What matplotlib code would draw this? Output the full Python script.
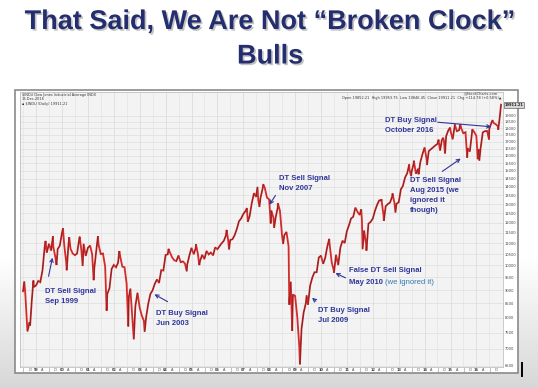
import numpy as np
import pandas as pd
import matplotlib
matplotlib.use('Agg')
import matplotlib.pyplot as plt
import matplotlib.dates as mdates
import matplotlib.patheffects as pe
from matplotlib.collections import LineCollection
from matplotlib.patches import Rectangle
from matplotlib.lines import Line2D

# Dow Jones Industrial Average, monthly closes (Jul 1998 - Nov 2016)
dow_1998 = [8883, 7539, 7843, 8592, 9117, 9181]
dow_1999 = [9359, 9307, 9786, 10789, 10560, 10971, 10655, 10829, 10337, 10729, 10878, 11497]
dow_2000 = [10941, 10128, 10922, 10734, 10522, 10448, 10522, 11215, 10651, 10971, 10415, 10787]
dow_2001 = [10887, 10495, 9879, 10735, 10912, 10502, 10523, 9950, 8848, 9075, 9852, 10021]
dow_2002 = [9920, 10106, 10404, 9946, 9925, 9243, 8737, 8664, 7592, 8397, 8896, 8342]
dow_2003 = [8054, 7891, 7992, 8480, 8850, 8985, 9234, 9416, 9275, 9801, 9782, 10454]
dow_2004 = [10488, 10584, 10358, 10226, 10188, 10435, 10140, 10174, 10080, 10027, 10428, 10783]
dow_2005 = [10490, 10766, 10504, 10193, 10467, 10275, 10641, 10482, 10569, 10440, 10806, 10718]
dow_2006 = [10865, 10993, 11109, 11367, 11168, 11150, 11186, 11381, 11679, 12081, 12221, 12463]
dow_2007 = [12622, 12269, 12354, 13063, 13628, 13409, 13212, 13358, 13896, 13930, 13372, 13265]
dow_2008 = [12650, 12266, 12263, 12820, 12638, 11350, 11378, 11544, 10851, 9325, 8829, 8776]
dow_2009 = [8001, 7063, 7609, 8168, 8500, 8447, 9172, 9496, 9712, 9713, 10345, 10428]
dow_2010 = [10067, 10325, 10857, 11009, 10137, 9774, 10466, 10015, 10788, 11118, 11006, 11578]
dow_2011 = [11892, 12226, 12320, 12811, 12570, 12414, 12143, 11614, 10913, 11955, 12046, 12218]
dow_2012 = [12633, 12952, 13212, 13214, 12393, 12880, 13009, 13091, 13437, 13096, 13026, 13104]
dow_2013 = [13861, 14054, 14579, 14840, 15116, 14910, 15500, 14810, 15130, 15546, 16086, 16577]
dow_2014 = [15699, 16322, 16458, 16581, 16717, 16827, 16563, 17098, 17043, 17391, 17828, 17823]
dow_2015 = [17165, 18133, 17776, 17841, 18011, 17620, 17690, 16528, 16285, 17664, 17720, 17425]
dow_2016 = [16466, 16517, 17685, 17774, 17787, 17930, 18432, 18401, 18308, 18142, 19124]

# swing highs / lows inside the months
swing_dates = ['1998-06-30', '1998-07-17', '1998-10-08', '1998-11-23',
               '1999-05-13', '1999-08-25', '1999-10-15',
               '2000-01-14', '2000-03-07', '2000-04-11', '2000-09-06', '2000-10-18',
               '2001-03-22', '2001-05-21', '2001-09-21',
               '2002-03-19', '2002-07-23', '2002-08-22', '2002-10-09',
               '2003-03-11', '2004-02-11', '2004-10-25', '2005-03-04', '2005-04-20',
               '2006-05-10', '2006-06-13',
               '2007-02-20', '2007-03-05', '2007-07-19', '2007-08-16', '2007-10-09',
               '2008-01-22', '2008-03-10', '2008-05-02', '2008-07-15', '2008-10-10', '2008-11-20',
               '2009-03-09', '2009-06-12', '2010-04-26', '2010-07-02',
               '2011-07-21', '2011-08-10', '2011-10-03',
               '2012-05-01', '2012-06-04', '2012-10-05', '2012-11-15',
               '2013-05-28', '2013-06-24', '2013-08-02', '2013-10-08',
               '2014-02-03', '2014-07-16', '2014-08-07', '2014-09-19', '2014-10-15', '2014-12-26',
               '2015-03-02', '2015-05-19', '2015-08-24', '2015-11-03',
               '2016-01-20', '2016-02-11', '2016-06-27', '2016-08-15', '2016-11-04', '2016-12-13']
swing_values = [8952, 9338, 7732, 9374,
                11107, 11326, 10019,
                11723, 9796, 11287, 11310, 9975,
                9389, 11337, 8236,
                10635, 7702, 9053, 7286,
                7524, 10737, 9750, 10941, 10012,
                11642, 10706,
                12786, 12050, 14000, 12845, 14165,
                11971, 11740, 13058, 10963, 8451, 7552,
                6547, 8799, 11205, 9686,
                12724, 10720, 10655,
                13279, 12101, 13610, 12543,
                15409, 14660, 15658, 14776,
                15372, 17138, 16368, 17280, 16141, 18053,
                18288, 18312, 15871, 17918,
                15766, 15660, 17140, 18636, 17888, 19911]

y_levels = list(range(6500, 19001, 500))

W, H = 538, 388
navy = '#242d6e'
blue = '#2f3699'

monthly = (dow_1998 + dow_1999 + dow_2000 + dow_2001 + dow_2002 + dow_2003 +
           dow_2004 + dow_2005 + dow_2006 + dow_2007 + dow_2008 + dow_2009 +
           dow_2010 + dow_2011 + dow_2012 + dow_2013 + dow_2014 + dow_2015 + dow_2016)
month_dates = pd.date_range('1998-07-31', periods=len(monthly), freq='ME')
series = pd.concat([pd.Series(monthly, index=month_dates),
                    pd.Series(swing_values, index=pd.to_datetime(swing_dates))]).sort_index()

fig = plt.figure(figsize=(W / 100, H / 100), dpi=100)

# slide background (white fading to grey at the bottom)
bg = fig.add_axes([0, 0, 1, 1], zorder=-10)
rows = np.arange(H)
shade = np.where(rows < 255, 1.0, 1.0 - (rows - 255) / (H - 255) * 0.16)
bg.imshow(np.tile(shade[:, None], (1, 4)), cmap='gray', vmin=0, vmax=1,
          aspect='auto', extent=[0, 1, 0, 1])
bg.axis('off')

# chart frame
fig.patches.append(Rectangle((15 / W, 1 - 373 / H), 503 / W, 283 / H, transform=fig.transFigure,
                             facecolor='white', edgecolor='#8a8a8a', linewidth=1.2, zorder=-5))

ax = fig.add_axes([20 / W, 1 - 367 / H, 483 / W, 275 / H])
ax.set_facecolor('#f3f3f3')

x = mdates.date2num(series.index.to_pydatetime())
y = series.values
ax.plot(x, y, color='#d42a2a', linewidth=1.3, zorder=3, solid_joinstyle='miter')
pts = np.column_stack([x, y])
segs = np.stack([pts[:-1], pts[1:]], axis=1)
up = [s for s, a, b in zip(segs, y[:-1], y[1:]) if b >= a]
ax.add_collection(LineCollection(up, colors='#4a2222', linewidths=0.45, alpha=0.8, zorder=4))

ax.set_yscale('log')
ax.set_xlim(mdates.date2num(pd.Timestamp('1998-05-18')), mdates.date2num(pd.Timestamp('2017-01-10')))
ax.set_ylim(6472, 21020)

ax.yaxis.tick_right()
ax.set_yticks(y_levels)
ax.set_yticklabels([str(v) for v in y_levels])
ax.yaxis.set_minor_locator(matplotlib.ticker.NullLocator())
ax.tick_params(axis='y', length=0, pad=1.5, labelsize=2.6, labelcolor='#444444')

quarters = pd.date_range('1998-07-01', '2016-10-01', freq='QS')
qlabels = []
for q in quarters:
    if q.month == 1:
        qlabels.append(q.strftime('%y'))
    else:
        qlabels.append({4: 'A', 7: 'J', 10: 'O'}[q.month])
ax.set_xticks(mdates.date2num(quarters.to_pydatetime()))
ax.set_xticklabels(qlabels)
for lab, q in zip(ax.get_xticklabels(), quarters):
    if q.month == 1:
        lab.set_fontweight('bold')
ax.tick_params(axis='x', length=0, pad=0.6, labelsize=2.5, labelcolor='#444444')

ax.grid(axis='y', color='#dedede', linewidth=0.5)
for q in quarters:
    if q.month in (1, 7):
        ax.axvline(mdates.date2num(q), color='#d8d8d8' if q.month == 1 else '#e4e4e4',
                   linewidth=0.5, zorder=1)
for s in ax.spines.values():
    s.set_color('#b5b5b5')
    s.set_linewidth(0.5)

# last price tag
ax.text(1.003, 19911, '19911.21', transform=ax.get_yaxis_transform(), fontsize=2.6,
        fontweight='bold', va='center', ha='left', color='#222222',
        bbox=dict(boxstyle='square,pad=0.25', fc='#d6d6d6', ec='#444444', lw=0.4))

# StockCharts header
hdr = dict(fontsize=2.5, color='#333333', transform=fig.transFigure)
fig.text(22 / W, 1 - 95 / H, '$INDU Dow Jones Industrial Average INDX', va='center', **hdr)
fig.text(22 / W, 1 - 99.5 / H, '13-Dec-2016', va='center', **hdr)
fig.text(22 / W, 1 - 104 / H, '\u25aa $INDU (Daily) 19911.21', va='center', **hdr)
fig.text(498 / W, 1 - 93 / H, '@StockCharts.com', va='center', ha='right', **hdr)
fig.text(502 / W, 1 - 98 / H,
         'Open 19852.21  High 19953.75  Low 19846.45  Close 19911.21  Chg +114.78 (+0.58%)\u25b2',
         va='center', ha='right', **hdr)

# title
shadow = [pe.withSimplePatchShadow(offset=(1.2, -1.2), shadow_rgbFace='#888888', alpha=0.5)]
fig.text(0.502, 1 - 29 / H, 'That Said, We Are Not \u201cBroken Clock\u201d', ha='center',
         va='baseline', fontsize=19.5, fontweight='bold', color=navy,
         family='Liberation Sans', path_effects=shadow)
fig.text(0.502, 1 - 63.5 / H, 'Bulls', ha='center', va='baseline', fontsize=19.5,
         fontweight='bold', color=navy, family='Liberation Sans', path_effects=shadow)

# signal annotations (pixel positions on the slide)
notes = [
    ('DT Sell Signal\nSep 1999', (45, 288), (48, 279), (53, 255)),
    ('DT Buy Signal\nJun 2003', (156, 310), (170, 303), (152, 293)),
    ('DT Sell Signal\nNov 2007', (279, 175), (277, 193), (268, 207)),
    ('DT Buy Signal\nJul 2009', (318, 307), (318, 303), (310, 296)),
    ('False DT Sell Signal', (349, 267), (348, 279), (333, 272)),
    ('DT Sell Signal\nAug 2015 (we\nignored it\nthough)', (410, 177), (440, 173), (463, 157)),
    ('DT Buy Signal\nOctober 2016', (385, 117), (435, 122), (494, 127)),
]
for txt, (tx, ty), (ax0, ay0), (hx, hy) in notes:
    fig.text(tx / W, 1 - ty / H, txt, ha='left', va='top', fontsize=5.5, fontweight='bold',
             color=blue, family='Liberation Sans', linespacing=1.6)
    fig.add_artist(matplotlib.patches.FancyArrowPatch(
        (ax0 / W, 1 - ay0 / H), (hx / W, 1 - hy / H), transform=fig.transFigure,
        arrowstyle='->', mutation_scale=6, color=blue, linewidth=0.8, zorder=5))

fig.text(349 / W, 1 - 284.5 / H, 'May 2010', ha='left', va='baseline', fontsize=5.5,
         fontweight='bold', color=blue, family='Liberation Sans')
fig.text(385 / W, 1 - 284.5 / H, '(we ignored it)', ha='left', va='baseline', fontsize=5.5,
         color='#2e78b8', family='Liberation Sans')

# cursor mark at the right edge of the screenshot
fig.add_artist(Line2D([522 / W, 522 / W], [1 - 363 / H, 1 - 376 / H], color='black', linewidth=1.4))

fig.savefig('out.png', dpi=100)
